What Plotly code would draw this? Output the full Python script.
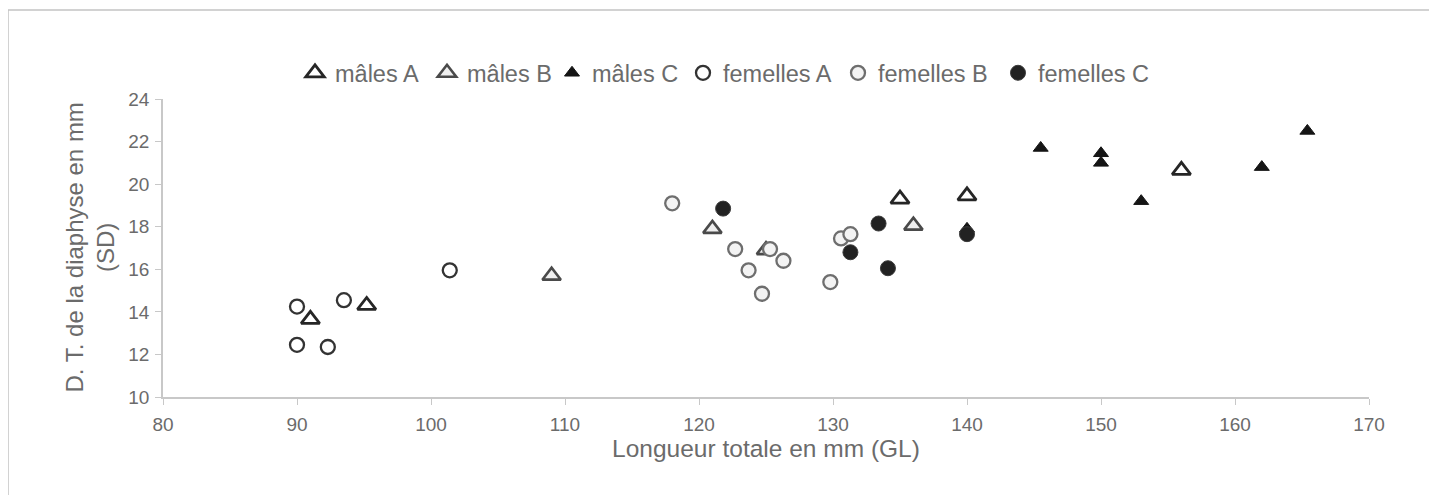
import plotly.graph_objects as go

# Data (x = Longueur totale GL, y = D.T. diaphyse SD)
males_A_x = [91.0, 95.2, 135.0, 140.0, 156.0]
males_A_y = [13.65, 14.3, 19.3, 19.45, 20.65]

males_B_x = [109.0, 121.0, 125.0, 136.0]
males_B_y = [15.7, 17.9, 16.9, 18.05]

males_C_x = [140.0, 145.5, 150.0, 150.0, 153.0, 162.0, 165.4]
males_C_y = [17.9, 21.7, 21.45, 21.0, 19.2, 20.8, 22.5]

femelles_A_x = [90.0, 90.0, 92.3, 93.5, 101.4]
femelles_A_y = [14.25, 12.45, 12.35, 14.55, 15.95]

femelles_B_x = [118.0, 122.7, 123.7, 124.7, 125.3, 126.3, 129.8, 130.6, 131.3]
femelles_B_y = [19.1, 16.95, 15.95, 14.85, 16.95, 16.4, 15.4, 17.45, 17.65]

femelles_C_x = [121.8, 131.3, 133.4, 134.1, 140.0]
femelles_C_y = [18.85, 16.8, 18.15, 16.05, 17.65]

x_ticks = [80, 90, 100, 110, 120, 130, 140, 150, 160, 170]
y_ticks = [10, 12, 14, 16, 18, 20, 22, 24]

x_title = "Longueur totale en mm (GL)"
y_title = "D. T. de la diaphyse en mm<br>(SD)"

FONT = "Liberation Sans, Arial, sans-serif"
TXT = "#6b6b6b"

W, H = 1429, 487
ML, MR, MT, MB = 155, 68, 91, 98
PW, PH = W - ML - MR, H - MT - MB

fig = go.Figure()

series = [
    ("mâles A", males_A_x, males_A_y,
     dict(symbol="triangle-up", size=16, color="white", line=dict(color="#262626", width=2.8))),
    ("mâles B", males_B_x, males_B_y,
     dict(symbol="triangle-up", size=16, color="#efefef", line=dict(color="#4a4a4a", width=2.6))),
    ("mâles C", males_C_x, males_C_y,
     dict(symbol="triangle-up", size=13, color="#151515", line=dict(color="#151515", width=1))),
    ("femelles A", femelles_A_x, femelles_A_y,
     dict(symbol="circle", size=14, color="white", line=dict(color="#333333", width=2.3))),
    ("femelles B", femelles_B_x, femelles_B_y,
     dict(symbol="circle", size=14, color="#f3f3f3", line=dict(color="#6e6e6e", width=2.3))),
    ("femelles C", femelles_C_x, femelles_C_y,
     dict(symbol="circle", size=15, color="#222222", line=dict(color="#3a3a3a", width=1))),
]

# legend marker centres (page px)
legend_marker_px = [315, 447, 572, 703, 858, 1018]

legend_layouts = {}
for i, ((name, xs, ys, mk), mpx) in enumerate(zip(series, legend_marker_px)):
    key = "legend" if i == 0 else f"legend{i + 1}"
    fig.add_trace(go.Scatter(x=xs, y=ys, mode="markers", name=name, marker=mk, legend=key))
    legend_layouts[key] = dict(
        orientation="h", x=(mpx - 8 - 20 - ML) / PW, xanchor="left",
        y=1 + 26 / PH, yanchor="middle",
        font=dict(size=23.5, color=TXT, family=FONT), bgcolor="rgba(0,0,0,0)",
        itemwidth=30,
    )

fig.update_layout(
    width=W, height=H,
    margin=dict(l=ML, r=MR, t=MT, b=MB),
    paper_bgcolor="white", plot_bgcolor="white",
    font=dict(family=FONT, color=TXT, size=19),
    showlegend=True,
    xaxis=dict(range=[80, 170], tickvals=x_ticks, ticktext=[str(v) for v in x_ticks],
               showgrid=False, zeroline=False, showline=True, linecolor="#c8c8c8", linewidth=1.5,
               ticks="outside", ticklen=6, tickcolor="#c8c8c8",
               tickfont=dict(size=19, color=TXT), ticklabelstandoff=3,
               title=dict(text=x_title, font=dict(size=24.5, color=TXT), standoff=0)),
    yaxis=dict(range=[10, 24], tickvals=y_ticks, ticktext=[str(v) for v in y_ticks],
               showgrid=False, zeroline=False, showline=True, linecolor="#c8c8c8", linewidth=1.5,
               ticks="outside", ticklen=6, tickcolor="#c8c8c8",
               tickfont=dict(size=19, color=TXT), ticklabelstandoff=2),
    **legend_layouts,
)

# y-axis title placed as a rotated text label (to match the reference position)
fig.add_annotation(text=y_title, textangle=-90, xref="paper", yref="paper",
                   x=(89.5 - 8 - ML) / PW, y=0.5, xanchor="center", yanchor="middle",
                   showarrow=False, font=dict(size=24, color=TXT, family=FONT))

# outer chart frame
fig.add_shape(type="rect", xref="paper", yref="paper",
              x0=(0 - ML) / PW, x1=(1424 - ML) / PW,
              y0=(PH + MT - 500) / PH, y1=(PH + MT - 2) / PH,
              line=dict(color="#c4c4c4", width=1.5), fillcolor="rgba(0,0,0,0)", layer="below")

fig.write_html("out.html")
